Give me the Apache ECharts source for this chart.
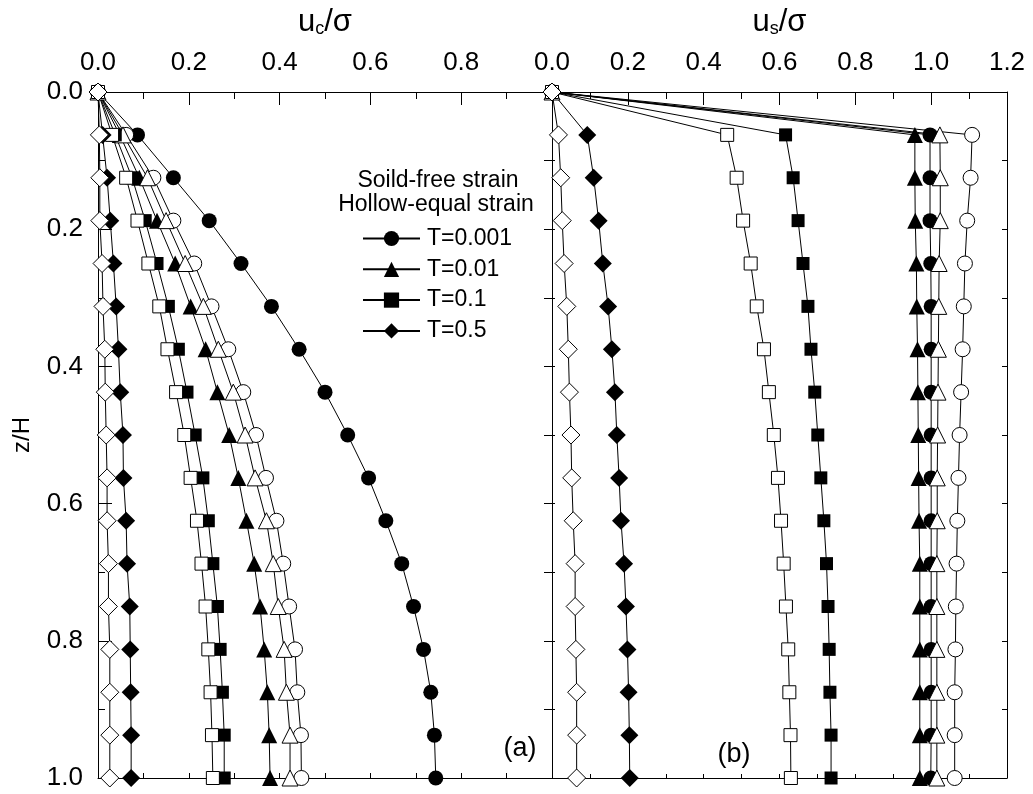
<!DOCTYPE html>
<html>
<head>
<meta charset="utf-8">
<script src="https://cdn.jsdelivr.net/npm/echarts@6/dist/echarts.min.js"></script>
<style>
  html, body { margin: 0; padding: 0; background: #fff; }
  #chart { width: 1033px; height: 794px; }
</style>
</head>
<body>
<div id="chart"></div>
<script>
// Depth ratio z/H of every computed point
const depth = [0, 0.0625, 0.125, 0.1875, 0.25, 0.3125, 0.375, 0.4375, 0.5,
               0.5625, 0.625, 0.6875, 0.75, 0.8125, 0.875, 0.9375, 1.0];

// Panel (a): column settlement ratio uc/sigma
const ucFreeT0001  = [0, 0.087, 0.166, 0.245, 0.315, 0.382, 0.443, 0.500, 0.550, 0.596, 0.634, 0.669, 0.695, 0.717, 0.733, 0.741, 0.744];
const ucEqualT0001 = [0, 0.062, 0.122, 0.166, 0.212, 0.250, 0.287, 0.320, 0.348, 0.370, 0.393, 0.408, 0.421, 0.434, 0.439, 0.447, 0.448];
const ucFreeT001   = [0, 0.048, 0.091, 0.130, 0.170, 0.204, 0.237, 0.263, 0.289, 0.309, 0.327, 0.344, 0.357, 0.366, 0.373, 0.377, 0.379];
const ucEqualT001  = [0, 0.055, 0.109, 0.150, 0.192, 0.232, 0.265, 0.298, 0.324, 0.346, 0.371, 0.386, 0.397, 0.410, 0.415, 0.423, 0.423];
const ucFreeT01    = [0, 0.038, 0.075, 0.104, 0.130, 0.155, 0.177, 0.196, 0.214, 0.231, 0.243, 0.253, 0.263, 0.269, 0.274, 0.278, 0.278];
const ucEqualT01   = [0, 0.031, 0.062, 0.087, 0.111, 0.135, 0.153, 0.172, 0.190, 0.204, 0.218, 0.228, 0.237, 0.243, 0.248, 0.251, 0.253];
const ucFreeT05    = [0, 0.010, 0.020, 0.027, 0.034, 0.040, 0.045, 0.049, 0.055, 0.056, 0.062, 0.064, 0.070, 0.071, 0.072, 0.073, 0.073];
const ucEqualT05   = [0, 0.003, 0.004, 0.004, 0.009, 0.011, 0.015, 0.016, 0.018, 0.020, 0.020, 0.023, 0.023, 0.026, 0.026, 0.026, 0.026];

// Panel (b): soil settlement ratio us/sigma
const usFreeT0001  = [0, 0.997, 0.997, 0.997, 0.999, 1.000, 1.000, 1.000, 1.000, 1.000, 1.000, 1.000, 1.000, 1.000, 1.000, 1.000, 0.999];
const usEqualT0001 = [0, 1.108, 1.104, 1.095, 1.089, 1.086, 1.083, 1.079, 1.075, 1.072, 1.069, 1.067, 1.065, 1.064, 1.062, 1.062, 1.062];
const usFreeT001   = [0, 0.957, 0.957, 0.958, 0.961, 0.962, 0.964, 0.965, 0.966, 0.967, 0.968, 0.970, 0.970, 0.970, 0.970, 0.970, 0.970];
const usEqualT001  = [0, 1.023, 1.024, 1.024, 1.021, 1.020, 1.019, 1.018, 1.017, 1.016, 1.016, 1.015, 1.015, 1.015, 1.015, 1.015, 1.015];
const usFreeT01    = [0, 0.616, 0.636, 0.649, 0.662, 0.675, 0.683, 0.693, 0.701, 0.709, 0.717, 0.724, 0.728, 0.731, 0.733, 0.736, 0.736];
const usEqualT01   = [0, 0.462, 0.487, 0.504, 0.524, 0.540, 0.559, 0.572, 0.585, 0.596, 0.604, 0.611, 0.617, 0.623, 0.626, 0.629, 0.630];
const usFreeT05    = [0, 0.093, 0.110, 0.123, 0.134, 0.148, 0.158, 0.166, 0.171, 0.177, 0.182, 0.190, 0.195, 0.199, 0.202, 0.204, 0.205];
const usEqualT05   = [0, 0.017, 0.023, 0.027, 0.032, 0.039, 0.043, 0.046, 0.050, 0.052, 0.056, 0.061, 0.061, 0.063, 0.065, 0.065, 0.065];

const timeLabels = ['T=0.001', 'T=0.01', 'T=0.1', 'T=0.5'];
const yTickLabels = ['0.0', '0.2', '0.4', '0.6', '0.8', '1.0'];

const FONT = '"Liberation Sans", Arial, Helvetica, sans-serif';
const INK = '#000';

const symbolOf = { circle: 15, triangle: 16, rect: 13, diamond: 18 };

function makeSeries(name, values, shape, filled, panel) {
  return {
    name: name,
    type: 'line',
    xAxisIndex: panel === 0 ? 0 : 2,
    yAxisIndex: panel === 0 ? 0 : 2,
    data: values.map((v, i) => [v, depth[i]]),
    symbol: shape,
    symbolSize: symbolOf[shape],
    showAllSymbol: true,
    lineStyle: { color: INK, width: 1 },
    itemStyle: filled
      ? { color: INK, borderColor: INK, borderWidth: 0 }
      : { color: '#fff', borderColor: INK, borderWidth: 1 },
    emphasis: { disabled: true },
    z: 3
  };
}

const series = [
  makeSeries(timeLabels[0], ucFreeT0001, 'circle', true, 0),
  makeSeries('equal ' + timeLabels[0], ucEqualT0001, 'circle', false, 0),
  makeSeries(timeLabels[1], ucFreeT001, 'triangle', true, 0),
  makeSeries('equal ' + timeLabels[1], ucEqualT001, 'triangle', false, 0),
  makeSeries(timeLabels[2], ucFreeT01, 'rect', true, 0),
  makeSeries('equal ' + timeLabels[2], ucEqualT01, 'rect', false, 0),
  makeSeries(timeLabels[3], ucFreeT05, 'diamond', true, 0),
  makeSeries('equal ' + timeLabels[3], ucEqualT05, 'diamond', false, 0),

  makeSeries(timeLabels[0], usFreeT0001, 'circle', true, 1),
  makeSeries('equal ' + timeLabels[0], usEqualT0001, 'circle', false, 1),
  makeSeries(timeLabels[1], usFreeT001, 'triangle', true, 1),
  makeSeries('equal ' + timeLabels[1], usEqualT001, 'triangle', false, 1),
  makeSeries(timeLabels[2], usFreeT01, 'rect', true, 1),
  makeSeries('equal ' + timeLabels[2], usEqualT01, 'rect', false, 1),
  makeSeries(timeLabels[3], usFreeT05, 'diamond', true, 1),
  makeSeries('equal ' + timeLabels[3], usEqualT05, 'diamond', false, 1)
];

const axisLine = { show: true, onZero: false, lineStyle: { color: INK, width: 1 } };

function topAxis(grid, max, sub) {
  return {
    type: 'value', gridIndex: grid, position: 'top',
    min: 0, max: max, interval: 0.2,
    name: '{u|u}{s|' + sub + '}{u|/σ}',
    nameLocation: 'middle', nameGap: 54,
    nameTextStyle: {
      rich: {
        u: { fontSize: 31, fontFamily: FONT, color: INK, lineHeight: 31, verticalAlign: 'bottom' },
        s: { fontSize: 18, fontFamily: FONT, color: INK, lineHeight: 20, verticalAlign: 'bottom' }
      }
    },
    axisLine: axisLine,
    axisTick: { show: true, inside: true, length: 13, lineStyle: { color: INK, width: 1 } },
    minorTick: { show: true, splitNumber: 2, length: 7, lineStyle: { color: INK, width: 1 } },
    axisLabel: {
      show: true, margin: 16, fontSize: 26, fontFamily: FONT, color: INK,
      showMaxLabel: grid === 1, showMinLabel: true,
      formatter: v => v.toFixed(1)
    },
    splitLine: { show: false }
  };
}

function bottomAxis(grid, max, len) {
  return {
    type: 'value', gridIndex: grid, position: 'bottom',
    min: 0, max: max, interval: 0.1,
    axisLine: axisLine,
    axisTick: { show: true, inside: true, length: len, lineStyle: { color: INK, width: 1 } },
    axisLabel: { show: false },
    splitLine: { show: false }
  };
}

function sideAxis(grid, pos, len) {
  return {
    type: 'value', gridIndex: grid, position: pos, inverse: true,
    min: 0, max: 1, interval: 0.1,
    axisLine: axisLine,
    axisTick: { show: true, inside: true, length: len, lineStyle: { color: INK, width: 1 } },
    axisLabel: { show: false },
    splitLine: { show: false }
  };
}

const option = {
  backgroundColor: '#fff',
  animation: false,
  grid: [
    { left: 98, top: 92, width: 454, height: 686 },
    { left: 552, top: 92, width: 455, height: 686 }
  ],
  xAxis: [
    topAxis(0, 1.0, 'c'),
    bottomAxis(0, 1.0, 5),
    topAxis(1, 1.2, 's'),
    bottomAxis(1, 1.2, 4)
  ],
  yAxis: [
    {
      type: 'value', gridIndex: 0, position: 'left', inverse: true,
      min: 0, max: 1, interval: 0.2,
      name: 'z/H', nameLocation: 'middle', nameGap: 64, nameRotate: 90,
      nameTextStyle: { fontSize: 24, fontFamily: FONT, color: INK },
      axisLine: axisLine,
      axisTick: { show: true, inside: true, length: 14, lineStyle: { color: INK, width: 1 } },
      minorTick: { show: true, splitNumber: 2, length: 7, lineStyle: { color: INK, width: 1 } },
      axisLabel: {
        show: true, margin: 15, fontSize: 26, fontFamily: FONT, color: INK,
        formatter: v => yTickLabels[Math.round(v * 5)]
      },
      splitLine: { show: false }
    },
    sideAxis(0, 'right', 8),
    sideAxis(1, 'left', 3),
    sideAxis(1, 'right', 5)
  ],
  legend: {
    data: timeLabels,
    orient: 'vertical',
    left: 362, top: 227,
    padding: 0,
    itemWidth: 57, itemHeight: 19, itemGap: 7.8,
    selectedMode: false,
    textStyle: { fontSize: 23, fontFamily: FONT, color: INK, lineHeight: 22, padding: [0, 0, 0, 2] }
  },
  graphic: [
    { type: 'text', x: 438, y: 181,
      style: { text: 'Soild-free strain', fontSize: 23, fontFamily: FONT, fill: INK, textAlign: 'center', textVerticalAlign: 'middle' } },
    { type: 'text', x: 436, y: 205,
      style: { text: 'Hollow-equal strain', fontSize: 23, fontFamily: FONT, fill: INK, textAlign: 'center', textVerticalAlign: 'middle' } },
    { type: 'text', x: 520, y: 749,
      style: { text: '(a)', fontSize: 27, fontFamily: FONT, fill: INK, textAlign: 'center', textVerticalAlign: 'middle' } },
    { type: 'text', x: 734, y: 755,
      style: { text: '(b)', fontSize: 27, fontFamily: FONT, fill: INK, textAlign: 'center', textVerticalAlign: 'middle' } }
  ],
  series: series
};

const chart = echarts.init(document.getElementById('chart'), null, { renderer: 'canvas' });
chart.setOption(option);
</script>
</body>
</html>
